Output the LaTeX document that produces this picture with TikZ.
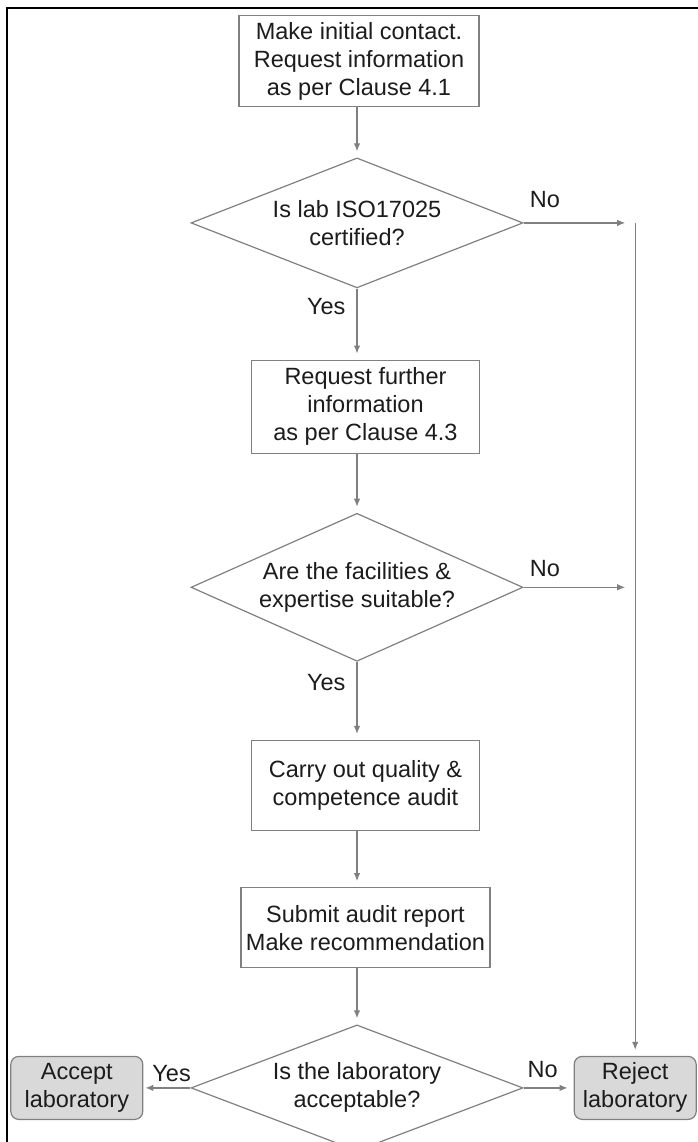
\documentclass[tikz,border=0pt]{standalone}
\usepackage{fontspec}
\setmainfont{Liberation Sans}
\usetikzlibrary{arrows.meta,positioning,shapes.geometric}
\definecolor{flowInk}{HTML}{1C1C1C}
\definecolor{flowLine}{HTML}{808080}
\definecolor{flowFill}{HTML}{D9D9D9}
\tikzset{
  every picture/.style={font=\fontsize{23.5}{28}\selectfont, text=flowInk},
  flow box/.style={draw=flowLine, line width=1.2pt, fill=white,
    align=center, inner sep=0pt},
  flow end/.style={flow box, fill=flowFill, rounded corners=8pt},
  flow test/.style={diamond, draw=flowLine, line width=1.2pt, fill=white,
    align=center, inner sep=0pt},
  flow arrow/.style={-{Latex[length=8pt,width=6.5pt]}, draw=flowLine,
    line width=1.2pt, shorten >=6pt},
  flow line/.style={draw=flowLine, line width=1.2pt},
  flow label/.style={inner sep=0pt}
}

\begin{document}
\begin{tikzpicture}[x=1pt,y=-1pt]
  \useasboundingbox (0,0) rectangle (698,1142);
  \draw[line width=2.2pt, black] (7,1160) -- (7,8) -- (720,8);

  \node[flow box, minimum width=240pt, minimum height=91pt] (contact) at (359,61.2)
    {Make initial contact.\\Request information\\as per Clause 4.1};
  \node[flow test, minimum width=332pt, minimum height=130pt, aspect=2.55,
    below=50pt of contact, xshift=-2pt] (iso) {Is lab ISO17025\\certified?};
  \node[flow box, minimum width=228pt, minimum height=93pt,
    below=71pt of iso, xshift=8.5pt] (further)
    {Request further\\information\\as per Clause 4.3};
  \node[flow test, minimum width=332pt, minimum height=148pt, aspect=2.24,
    below=59pt of further, xshift=-8.5pt] (suitable)
    {Are the facilities \&\\expertise suitable?};
  \node[flow box, minimum width=228pt, minimum height=90pt,
    below=78pt of suitable, xshift=8.5pt] (audit)
    {Carry out quality \&\\competence audit};
  \node[flow box, minimum width=249pt, minimum height=80pt,
    below=56pt of audit] (report)
    {Submit audit report\\Make recommendation};
  \node[flow test, minimum width=332pt, minimum height=126pt, aspect=2.63,
    below=56pt of report, xshift=-8.5pt] (verdict)
    {Is the laboratory\\acceptable?};
  \node[flow end, minimum width=132pt, minimum height=63pt,
    left=47pt of verdict] (accept) {Accept\\laboratory};
  \node[flow end, minimum width=122pt, minimum height=63pt,
    right=50pt of verdict] (reject) {Reject\\laboratory};

  \coordinate (isoNo) at (reject.north |- iso.east);
  \coordinate (fitNo) at (reject.north |- suitable.east);

  % main line
  \draw[flow arrow] (iso.north |- contact.south) -- (iso.north);
  \draw[flow arrow] (iso.south) --
    node[flow label, left=11pt, pos=0.25] {Yes} (iso.south |- further.north);
  \draw[flow arrow] (suitable.north |- further.south) -- (suitable.north);
  \draw[flow arrow] (suitable.south) --
    node[flow label, left=11pt, pos=0.26] {Yes} (suitable.south |- audit.north);
  \draw[flow arrow] (suitable.south |- audit.south) -- (suitable.south |- report.north);
  \draw[flow arrow] (verdict.north |- report.south) -- (verdict.north);

  % rejections
  \draw[flow arrow, shorten >=10pt] (iso.east) --
    node[flow label, above=15pt, pos=0.19] {No} (isoNo);
  \draw[flow arrow, shorten >=10pt] (suitable.east) --
    node[flow label, above=10pt, pos=0.19] {No} (fitNo);
  \draw[flow arrow] (isoNo) -- (reject.north);

  % outcome
  \draw[flow arrow, shorten >=2pt] (verdict.west) --
    node[flow label, above=5.5pt, pos=0.4] {Yes} (accept.east);
  \draw[flow arrow] (verdict.east) --
    node[flow label, above=9.5pt, pos=0.38] {No} (reject.west);
\end{tikzpicture}
\end{document}
